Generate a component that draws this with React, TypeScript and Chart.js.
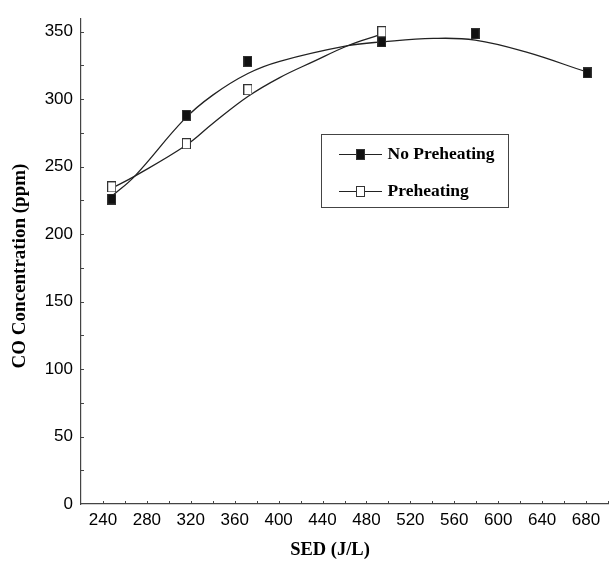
import React, { useEffect, useRef } from 'react';
import { Chart, registerables } from 'chart.js';

Chart.register(...registerables);

// ---- data ----
const xTickLabels = [240, 280, 320, 360, 400, 440, 480, 520, 560, 600, 640, 680];
const xMinorTicks = [240, 260, 280, 300, 320, 340, 360, 380, 400, 420, 440, 460, 480, 500, 520, 540, 560, 580, 600, 620, 640, 660, 680, 700];
const yTickLabels = [0, 50, 100, 150, 200, 250, 300, 350];
const yMinorTicks = [25, 50, 75, 100, 125, 150, 175, 200, 225, 250, 275, 300, 325, 350];

const seriesNames = ['No Preheating', 'Preheating'];

const noPreheatSED = [248, 316, 372, 494, 579, 681];
const noPreheatCO = [226, 288, 328, 342.5, 348.5, 319.5];
const preheatSED = [248, 316, 372, 494];
const preheatCO = [235, 267, 307, 350];

// trend curves
const noPreheatFitSED = [248, 269, 314, 340, 372, 401, 463, 495, 541, 579, 625, 681];
const noPreheatFitCO = [228, 243, 285, 303, 319, 328, 339.6, 342.5, 345, 343.8, 335, 320];
const preheatFitSED = [248, 269, 316, 340, 372, 401, 432, 463, 491];
const preheatFitCO = [234, 243, 266, 282, 302, 316, 328, 339.6, 347.4];

const xTitle = 'SED (J/L)';
const yTitle = 'CO Concentration (ppm)';

const zip = (xs: number[], ys: number[]) => xs.map((x, i) => ({ x, y: ys[i] }));

function makeMarker(fill: string, stroke: string) {
  const c = document.createElement('canvas');
  c.width = 9;
  c.height = 11;
  const ctx = c.getContext('2d')!;
  ctx.fillStyle = fill;
  ctx.fillRect(0, 0, 9, 11);
  ctx.strokeStyle = stroke;
  ctx.lineWidth = 1;
  ctx.strokeRect(0.5, 0.5, 8, 10);
  return c;
}

export default function App() {
  const ref = useRef<HTMLCanvasElement | null>(null);

  useEffect(() => {
    if (!ref.current) return;
    const filled = makeMarker('#111111', '#333333');
    const open = makeMarker('#ffffff', '#333333');
    const axisColor = '#444444';
    const lineColor = '#222222';

    const decor = {
      id: 'decor',
      afterDraw(chart: any) {
        const ctx = chart.ctx;
        const xs = chart.scales.x;
        const ys = chart.scales.y;
        const ca = chart.chartArea;
        ctx.save();
        // inward minor ticks
        ctx.strokeStyle = axisColor;
        ctx.lineWidth = 1;
        ctx.beginPath();
        yMinorTicks.forEach((v) => {
          const py = Math.round(ys.getPixelForValue(v)) + 0.5;
          ctx.moveTo(ca.left, py);
          ctx.lineTo(ca.left + 3, py);
        });
        xMinorTicks.forEach((v) => {
          const px = Math.round(xs.getPixelForValue(v)) + 0.5;
          ctx.moveTo(px, ca.bottom);
          ctx.lineTo(px, ca.bottom - 3);
        });
        ctx.stroke();

        // axis titles
        ctx.fillStyle = '#000';
        ctx.textAlign = 'center';
        ctx.textBaseline = 'middle';
        ctx.font = 'bold 18.5px "Liberation Serif"';
        ctx.fillText(xTitle, 330, 550);
        ctx.save();
        ctx.translate(20, 266);
        ctx.rotate(-Math.PI / 2);
        ctx.font = 'bold 19px "Liberation Serif"';
        ctx.fillText(yTitle, 0, 0);
        ctx.restore();

        // legend
        const bx = 321.5, by = 134.5, bw = 187, bh = 73;
        ctx.fillStyle = '#fff';
        ctx.fillRect(bx, by, bw, bh);
        ctx.strokeStyle = '#444';
        ctx.lineWidth = 1;
        ctx.strokeRect(bx, by, bw, bh);
        const rows = [154.5, 191.5];
        const markers = [filled, open];
        rows.forEach((ry, i) => {
          ctx.strokeStyle = lineColor;
          ctx.lineWidth = 1.2;
          ctx.beginPath();
          ctx.moveTo(339, ry);
          ctx.lineTo(382, ry);
          ctx.stroke();
          ctx.drawImage(markers[i], Math.round(360 - 4.5), Math.round(ry - 5.5));
          ctx.fillStyle = '#000';
          ctx.textAlign = 'left';
          ctx.textBaseline = 'middle';
          ctx.font = 'bold 17.5px "Liberation Serif"';
          ctx.fillText(seriesNames[i], 387.5, ry);
        });
        ctx.restore();
      },
    };

    const chart = new Chart(ref.current, {
      type: 'scatter',
      data: {
        datasets: [
          {
            label: seriesNames[1],
            data: zip(preheatSED, preheatCO),
            pointStyle: open as any,
            showLine: false,
          },
          {
            label: seriesNames[0],
            data: zip(noPreheatSED, noPreheatCO),
            pointStyle: filled as any,
            showLine: false,
          },
          {
            label: seriesNames[0] + ' fit',
            data: zip(noPreheatFitSED, noPreheatFitCO),
            showLine: true,
            pointRadius: 0,
            borderColor: lineColor,
            borderWidth: 1.3,
            tension: 0.4,
            fill: false,
          },
          {
            label: seriesNames[1] + ' fit',
            data: zip(preheatFitSED, preheatFitCO),
            showLine: true,
            pointRadius: 0,
            borderColor: lineColor,
            borderWidth: 1.3,
            tension: 0.4,
            fill: false,
          },
        ],
      },
      options: {
        animation: false,
        responsive: true,
        maintainAspectRatio: false,
        layout: { padding: { top: 9, right: 6, left: 0, bottom: 0 } },
        plugins: {
          legend: { display: false },
          tooltip: { enabled: false },
        },
        scales: {
          x: {
            type: 'linear',
            min: 220,
            max: 700,
            afterBuildTicks: (s: any) => {
              s.ticks = xTickLabels.map((v) => ({ value: v }));
            },
            afterFit: (s: any) => {
              s.height = 61;
            },
            grid: { display: true, drawOnChartArea: false, drawTicks: false },
            border: { display: true, color: axisColor, width: 1.2 },
            ticks: {
              color: '#000',
              padding: 6,
              maxRotation: 0,
              autoSkip: false,
              font: { family: '"Liberation Sans"', size: 17 },
            },
          },
          y: {
            type: 'linear',
            min: 0,
            max: 360,
            afterBuildTicks: (s: any) => {
              s.ticks = yTickLabels.map((v) => ({ value: v }));
            },
            afterFit: (s: any) => {
              s.width = 81;
            },
            grid: { display: true, drawOnChartArea: false, drawTicks: false },
            border: { display: true, color: axisColor, width: 1.2 },
            ticks: {
              color: '#000',
              padding: 8,
              autoSkip: false,
              font: { family: '"Liberation Sans"', size: 17 },
            },
          },
        },
      },
      plugins: [decor],
    });
    return () => chart.destroy();
  }, []);

  return (
    <div style={{ position: 'fixed', left: 0, top: 0, width: 614, height: 565, background: '#fff' }}>
      <canvas ref={ref} />
    </div>
  );
}
